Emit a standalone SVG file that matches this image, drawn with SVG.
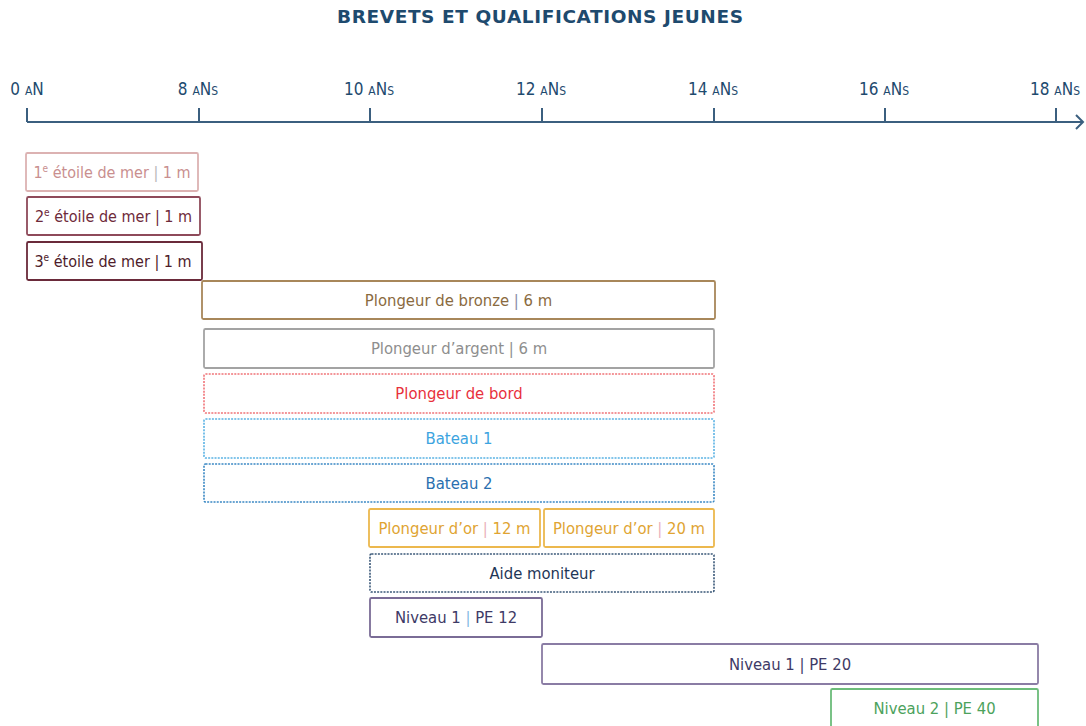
<svg xmlns="http://www.w3.org/2000/svg" width="1086" height="726" viewBox="0 0 1086 726">
<style>
text{font-family:"DejaVu Sans Condensed","DejaVu Sans","Liberation Sans",sans-serif;font-size:16.5px;text-anchor:middle}
.title{font-family:"DejaVu Sans","Liberation Sans",sans-serif;font-weight:bold;font-size:18.5px;fill:#1e4a6e}
.ax{font-size:17px;fill:#1e4a6e}
.sc{font-size:12px}
.axis{stroke:#3b5f7f;stroke-width:2;fill:none}
.box{fill:#fff;stroke-width:1.8}
.dot{stroke-dasharray:2 1.2;stroke-width:1.6}
.small{font-size:16px}
.sup{font-size:10px}
</style>
<rect width="1086" height="726" fill="#fff"/>
<text class="title" x="540" y="23" textLength="406" lengthAdjust="spacing">BREVETS ET QUALIFICATIONS JEUNES</text>

<g id="axis">
  <path class="axis" d="M27,122 H1082 M1076,115 L1083,122 L1076,129"/>
  <path class="axis" d="M27,108 V122 M199,108 V122 M370,108 V122 M542,108 V122 M714,108 V122 M885,108 V122 M1056,108 V122"/>
  <text class="ax" x="27" y="95">0 <tspan class="sc">A</tspan>N</text>
  <text class="ax" x="198" y="95">8 <tspan class="sc">A</tspan>N<tspan class="sc">S</tspan></text>
  <text class="ax" x="369" y="95">10 <tspan class="sc">A</tspan>N<tspan class="sc">S</tspan></text>
  <text class="ax" x="541" y="95">12 <tspan class="sc">A</tspan>N<tspan class="sc">S</tspan></text>
  <text class="ax" x="713" y="95">14 <tspan class="sc">A</tspan>N<tspan class="sc">S</tspan></text>
  <text class="ax" x="884" y="95">16 <tspan class="sc">A</tspan>N<tspan class="sc">S</tspan></text>
  <text class="ax" x="1055" y="95">18 <tspan class="sc">A</tspan>N<tspan class="sc">S</tspan></text>
</g>

<g id="etoile1">
  <rect class="box" x="26" y="153" width="172" height="38" rx="1.5" stroke="#dcb2b2"/>
  <text class="small" x="112" y="177.5" fill="#c98f8f">1<tspan class="sup" dy="-5.5">e</tspan><tspan dy="5.5"> étoile de mer </tspan><tspan fill="#b8b8b8">|</tspan> 1 m</text>
</g>
<g id="etoile2">
  <rect class="box" x="27" y="197" width="173" height="38" rx="1.5" stroke="#8e4a5a"/>
  <text class="small" x="113.5" y="221.5" fill="#6e2a3a">2<tspan class="sup" dy="-5.5">e</tspan><tspan dy="5.5"> étoile de mer | 1 m</tspan></text>
</g>
<g id="etoile3">
  <rect class="box" x="27" y="242" width="175" height="38" rx="1.5" stroke="#6a2a3a"/>
  <text class="small" x="113" y="266.5" fill="#4e1c2a">3<tspan class="sup" dy="-5.5">e</tspan><tspan dy="5.5"> étoile de mer | 1 m</tspan></text>
</g>
<g id="bronze">
  <rect class="box" x="202" y="281" width="513" height="38" rx="1.5" stroke="#a8875a"/>
  <text x="458.5" y="305.5" fill="#8a6a3e">Plongeur de bronze <tspan fill="#8a8aa8">|</tspan> 6 m</text>
</g>
<g id="argent">
  <rect class="box" x="204" y="329" width="510" height="39" rx="1.5" stroke="#a3a3a3"/>
  <text x="459" y="354" fill="#8e8e8e">Plongeur d’argent | 6 m</text>
</g>
<g id="bord">
  <rect class="box dot" x="204" y="374" width="510" height="39" rx="1.5" stroke="#f07478"/>
  <text x="459" y="399" fill="#e8303c">Plongeur de bord</text>
</g>
<g id="bateau1">
  <rect class="box dot" x="204" y="419" width="510" height="39" rx="1.5" stroke="#5ab2e4"/>
  <text x="459" y="444" fill="#3ca4e0">Bateau 1</text>
</g>
<g id="bateau2">
  <rect class="box dot" x="204" y="464" width="510" height="38" rx="1.5" stroke="#3a88c4"/>
  <text x="459" y="488.5" fill="#2a70b0">Bateau 2</text>
</g>
<g id="or12">
  <rect class="box" x="369" y="509" width="171" height="38" rx="1.5" stroke="#ecb84e"/>
  <text x="454.5" y="533.5" fill="#e0a432">Plongeur d’or <tspan fill="#eab0bc">|</tspan> 12 m</text>
</g>
<g id="or20">
  <rect class="box" x="544" y="509" width="170" height="38" rx="1.5" stroke="#ecb84e"/>
  <text x="629" y="533.5" fill="#e0a432">Plongeur d’or <tspan fill="#eab0bc">|</tspan> 20 m</text>
</g>
<g id="aide">
  <rect class="box dot" x="370" y="554" width="344" height="38" rx="1.5" stroke="#3a5878"/>
  <text x="542" y="578.5" fill="#1e3656">Aide moniteur</text>
</g>
<g id="niveau1pe12">
  <rect class="box" x="370" y="598" width="172" height="39" rx="1.5" stroke="#7a6c96"/>
  <text x="456" y="623" fill="#3e3a66">Niveau 1 <tspan fill="#86b8e4">|</tspan> PE 12</text>
</g>
<g id="niveau1pe20">
  <rect class="box" x="542" y="644" width="496" height="40" rx="1.5" stroke="#8a7ca4"/>
  <text x="790" y="669.5" fill="#3e3a66">Niveau 1 | PE 20</text>
</g>
<g id="niveau2pe40">
  <rect class="box" x="831" y="689" width="207" height="42" rx="1.5" stroke="#6cbc7a"/>
  <text x="934.5" y="713.5" fill="#4ca25c">Niveau 2 | PE 40</text>
</g>
</svg>
